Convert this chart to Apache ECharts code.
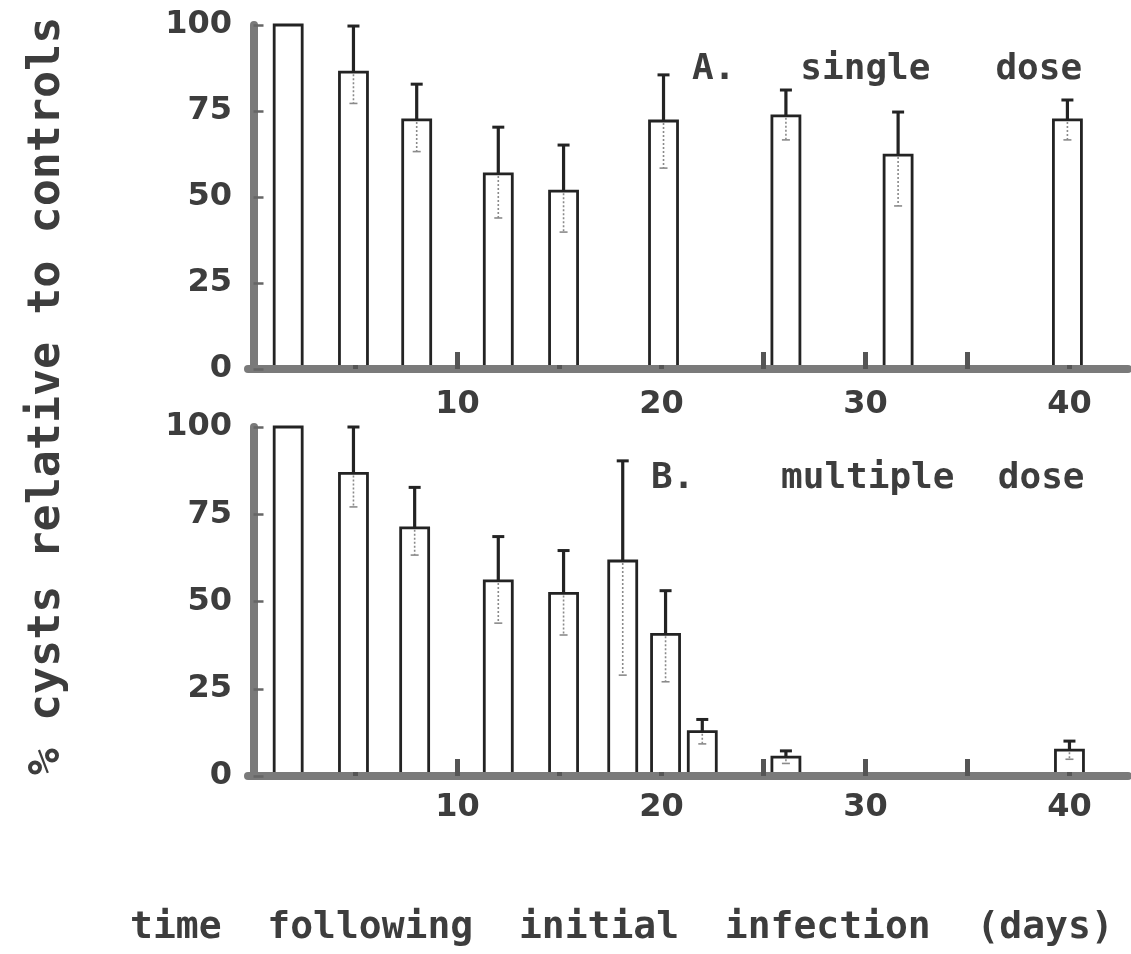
<!DOCTYPE html>
<html>
<head>
<meta charset="utf-8">
<script src="https://cdn.jsdelivr.net/npm/echarts@6/dist/echarts.min.js"></script>
<style>
  html, body { margin: 0; padding: 0; background: #ffffff; }
  #chart { width: 1131px; height: 954px; }
</style>
</head>
<body>
<div id="chart"></div>
<script>
// A. single dose: sampling day, mean % cysts, upper and lower error limits
const daysSingle  = [1.7, 4.9, 8.0, 12.0, 15.2, 20.1, 26.1, 31.6, 39.9];
const meanSingle  = [100, 86.3, 72.4, 56.7, 51.7, 72.1, 73.6, 62.2, 72.4];
const upperSingle = [null, 99.7, 82.8, 70.3, 65.1, 85.5, 81.1, 74.7, 78.2];
const lowerSingle = [null, 77.2, 63.2, 43.9, 39.8, 58.4, 66.6, 47.4, 66.6];

// B. multiple dose
const daysMultiple  = [1.7, 4.9, 7.9, 12.0, 15.2, 18.1, 20.2, 22.0, 26.1, 40.0];
const meanMultiple  = [100, 86.7, 71.1, 55.9, 52.3, 61.6, 40.6, 12.7, 5.4, 7.4];
const upperMultiple = [null, 100, 82.7, 68.6, 64.6, 90.3, 53.1, 16.2, 7.2, 10.0];
const lowerMultiple = [null, 77.1, 63.3, 43.8, 40.4, 28.9, 27.0, 9.2, 3.6, 4.8];

// axis ticks
const yTickValues  = [0, 25, 50, 75, 100];
const xLabelValues = [10, 20, 30, 40];
const xMarkValues  = [5, 10, 15, 20, 25, 30, 35, 40];

// texts
const titleSingle   = 'A.   single   dose';
const titleMultiple = 'B.    multiple  dose';
const yTitle = '% cysts relative to controls';
const xTitle = 'time  following  initial  infection  (days)';

const INK = '#232323';
const TEXT = '#3d3d3d';
const AXIS = '#7a7a7a';
const AXIS_W = 8;
const BAR_HALF = 14;
const MONO = '"DejaVu Sans Mono", "Liberation Mono", monospace';
const NUM = '"DejaVu Sans", "Liberation Sans", sans-serif';

function renderBar(params, api) {
  const d = api.value(0), v = api.value(1), hi = api.value(2), lo = api.value(3);
  const base = api.coord([d, 0]);
  const top = api.coord([d, v]);
  const cx = top[0];
  const floor = base[1] - AXIS_W / 2;
  const children = [
    { type: 'rect',
      shape: { x: cx - BAR_HALF, y: top[1], width: BAR_HALF * 2, height: floor - top[1] },
      style: { fill: '#ffffff', stroke: null } },
    { type: 'polyline',
      shape: { points: [[cx - BAR_HALF, floor], [cx - BAR_HALF, top[1]], [cx + BAR_HALF, top[1]], [cx + BAR_HALF, floor]] },
      style: { fill: null, stroke: INK, lineWidth: 2.8 } }
  ];
  if (isFinite(hi) && hi > v) {
    const h = api.coord([d, hi]);
    children.push(
      { type: 'line', shape: { x1: cx, y1: top[1], x2: cx, y2: h[1] }, style: { stroke: INK, lineWidth: 3.2 } },
      { type: 'line', shape: { x1: cx - 6, y1: h[1], x2: cx + 6, y2: h[1] }, style: { stroke: INK, lineWidth: 3 } }
    );
  }
  if (isFinite(lo) && lo < v) {
    const l = api.coord([d, lo]);
    children.push(
      { type: 'line', shape: { x1: cx, y1: top[1] + 2, x2: cx, y2: l[1] }, style: { stroke: '#8a8a8a', lineWidth: 1.6, lineDash: [2, 2] } },
      { type: 'line', shape: { x1: cx - 4, y1: l[1], x2: cx + 4, y2: l[1] }, style: { stroke: '#8a8a8a', lineWidth: 1.6 } }
    );
  }
  return { type: 'group', children };
}

function barSeries(idx, days, mean, upper, lower) {
  return {
    type: 'custom',
    xAxisIndex: idx,
    yAxisIndex: idx,
    silent: true,
    data: days.map((d, i) => [d, mean[i], upper[i] == null ? NaN : upper[i], lower[i] == null ? NaN : lower[i]]),
    renderItem: renderBar
  };
}

function xAxisFor(idx, labelMargin) {
  return {
    type: 'value',
    gridIndex: idx,
    min: -0.27,
    max: 42.87,
    splitLine: { show: false },
    axisLine: { show: true, lineStyle: { color: AXIS, width: AXIS_W } },
    axisTick: { show: true, inside: true, length: 17, customValues: xMarkValues,
                lineStyle: { color: '#555555', width: 5 } },
    axisLabel: { show: true, customValues: xLabelValues, margin: labelMargin,
                 fontFamily: NUM, fontWeight: 'bold', fontSize: 32, color: TEXT }
  };
}

function yAxisFor(idx) {
  return {
    type: 'value',
    gridIndex: idx,
    min: yTickValues[0],
    max: yTickValues[yTickValues.length - 1],
    interval: 25,
    splitLine: { show: false },
    axisLine: { show: true, lineStyle: { color: AXIS, width: AXIS_W } },
    axisTick: { show: true, inside: true, length: 10, lineStyle: { color: '#666666', width: 2.5 } },
    axisLabel: { show: true, margin: 16, fontFamily: NUM, fontWeight: 'bold', fontSize: 32, color: TEXT }
  };
}

const chart = echarts.init(document.getElementById('chart'), null, { renderer: 'canvas' });
chart.setOption({
  animation: false,
  backgroundColor: '#ffffff',
  grid: [
    { left: 248, right: 3, top: 25, height: 344 },
    { left: 248, right: 3, top: 427, height: 349 }
  ],
  xAxis: [xAxisFor(0, 20), xAxisFor(1, 16)],
  yAxis: [yAxisFor(0), yAxisFor(1)],
  series: [
    barSeries(0, daysSingle, meanSingle, upperSingle, lowerSingle),
    barSeries(1, daysMultiple, meanMultiple, upperMultiple, lowerMultiple)
  ],
  graphic: [
    { type: 'text', x: 692, y: 70, silent: true,
      style: { text: titleSingle, font: 'bold 36px ' + MONO, fill: TEXT,
               align: 'left', verticalAlign: 'middle', textAlign: 'left', textVerticalAlign: 'middle' } },
    { type: 'text', x: 651, y: 479, silent: true,
      style: { text: titleMultiple, font: 'bold 36px ' + MONO, fill: TEXT,
               align: 'left', verticalAlign: 'middle', textAlign: 'left', textVerticalAlign: 'middle' } },
    { type: 'text', x: 47, y: 396, rotation: Math.PI / 2, silent: true,
      style: { text: yTitle, font: 'bold 45px ' + MONO, fill: TEXT,
               align: 'center', verticalAlign: 'middle', textAlign: 'center', textVerticalAlign: 'middle' } },
    { type: 'text', x: 130, y: 928, silent: true,
      style: { text: xTitle, font: 'bold 38px ' + MONO, fill: TEXT,
               align: 'left', verticalAlign: 'middle', textAlign: 'left', textVerticalAlign: 'middle' } }
  ]
});
</script>
</body>
</html>
